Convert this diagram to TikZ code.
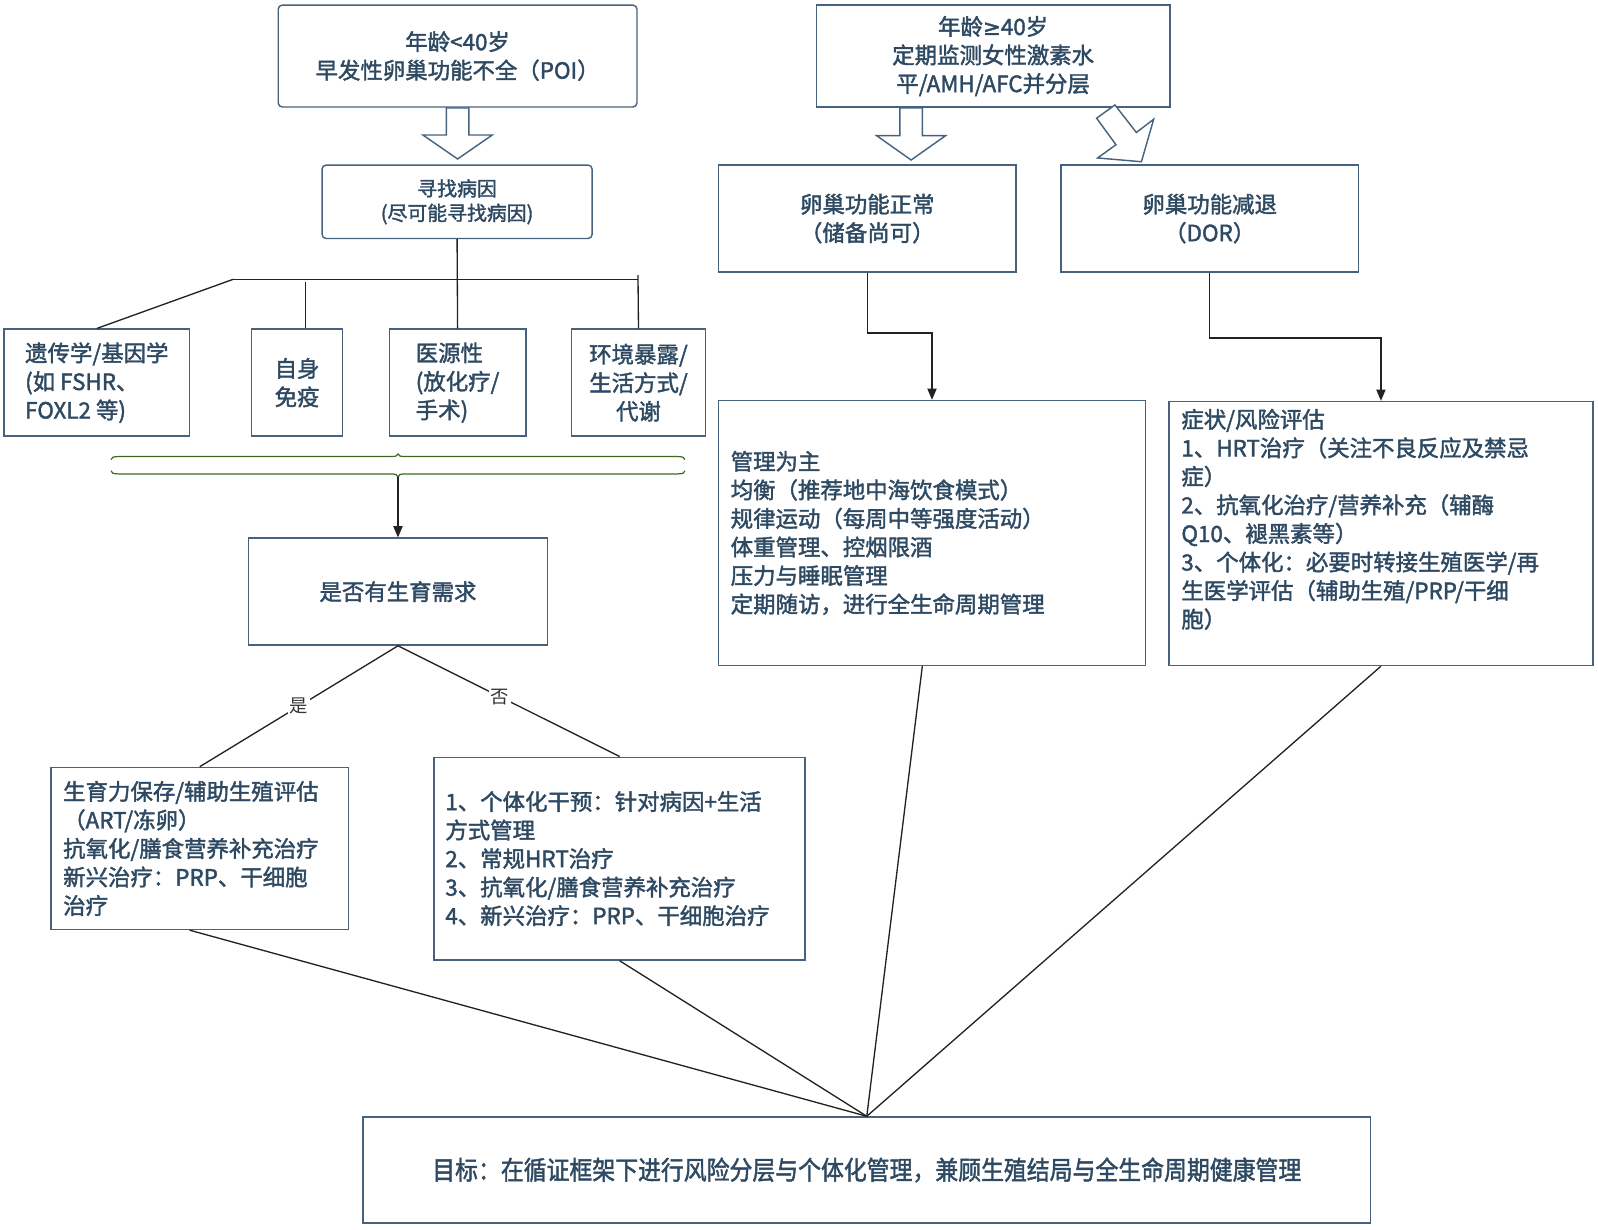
\documentclass[tikz,border=0pt]{standalone}
\usepackage{fontspec}
\setmainfont{Noto Sans CJK SC}[FakeBold=1.8]
\newfontfamily\symf{DejaVu Sans}[FakeBold=1.8]
\newfontfamily\labf{Noto Sans CJK SC}
\usetikzlibrary{arrows.meta,calc}
\definecolor{txt}{HTML}{2E4A62}
\definecolor{bd}{HTML}{46627E}
\definecolor{ln}{HTML}{222222}
\definecolor{brc}{HTML}{3A6A22}
\begin{document}
\begin{tikzpicture}[x=1pt,y=-1pt,
  box/.style={draw=bd, line width=1.4pt, text=txt, inner sep=0pt, font=\fontsize{22}{28}\selectfont, align=center},
  rbox/.style={box, rounded corners=4pt},
  lbox/.style={box, align=left, inner xsep=12pt},
  conn/.style={draw=ln, line width=1.3pt},
  arr/.style={conn, -{Triangle[length=11pt,width=9pt]}},
  hollow/.style={draw=bd, line width=1.4pt, fill=white, line join=miter},
  lab/.style={fill=white, text=black!80, font=\labf\fontsize{18}{20}\selectfont, inner sep=1.5pt},
  brace/.style={draw=brc, line width=1.2pt}
]
\useasboundingbox (0,0) rectangle (1568,1206);

% left column
\node[rbox, minimum width=352pt, minimum height=100pt] (poi) at (449,55) {年龄<40岁\\早发性卵巢功能不全（POI）};
\node[rbox, minimum width=265pt, minimum height=72pt, font=\fontsize{19.5}{24}\selectfont] (cause) at (448.5,198) {寻找病因\\(尽可能寻找病因)};

\node[box, align=left, minimum width=182pt, minimum height=105pt] (gene) at (95,375.5) {遗传学/基因学\\(如 FSHR、\\FOXL2 等)};
\node[box, minimum width=89pt, minimum height=105pt] (auto) at (291.5,375.5) {自身\\免疫};
\node[box, align=left, minimum width=134pt, minimum height=105pt] (iatro) at (449,375.5) {医源性\\(放化疗/\\手术)};
\node[box, minimum width=131pt, minimum height=105pt] (env) at (626.5,375.5) {环境暴露/\\生活方式/\\代谢};

\node[box, minimum width=293pt, minimum height=105pt] (yesno) at (390.5,580.5) {是否有生育需求};

\node[lbox, text width=268pt, minimum height=159pt] (fert) at (196,832.5) {生育力保存/辅助生殖评估\\（ART/冻卵）\\抗氧化/膳食营养补充治疗\\新兴治疗：PRP、干细胞\\治疗};
\node[lbox, inner xsep=11pt, text width=342pt, minimum height=199pt] (noint) at (608,842.5) {1、个体化干预：针对病因+生活\\方式管理\\2、常规HRT治疗\\3、抗氧化/膳食营养补充治疗\\4、新兴治疗：PRP、干细胞治疗};

% right column
\node[box, minimum width=347pt, minimum height=100pt] (old) at (974.5,55) {年龄{\symf\fontsize{21}{28}\selectfont ≥}40岁\\定期监测女性激素水\\平/AMH/AFC并分层};
\node[box, minimum width=292pt, minimum height=105pt] (normal) at (851,214.5) {卵巢功能正常\\（储备尚可）};
\node[box, minimum width=292pt, minimum height=105pt] (dor) at (1187,214.5) {卵巢功能减退\\（DOR）};
\node[lbox, text width=395pt, minimum height=260pt] (mgmt) at (914.5,523) {管理为主\\均衡（推荐地中海饮食模式）\\规律运动（每周中等强度活动）\\体重管理、控烟限酒\\压力与睡眠管理\\定期随访，进行全生命周期管理};
\node[box, minimum width=416pt, minimum height=259pt] (symp) at (1355,523.5) {};
\node[anchor=north west, inner sep=0pt, align=left, text=txt, font=\fontsize{22}{28}\selectfont] (symptxt) at (1159,401) {症状/风险评估\\1、HRT治疗（关注不良反应及禁忌\\症）\\2、抗氧化治疗/营养补充（辅酶\\Q10、褪黑素等）\\3、个体化：必要时转接生殖医学/再\\生医学评估（辅助生殖/PRP/干细\\胞）};

% goal
\node[box, minimum width=989pt, minimum height=104pt] (goal) at (850.5,1148) {\raisebox{-2pt}{\scalebox{0.88}[1]{\fontsize{25.5}{28}\selectfont 目标：在循证框架下进行风险分层与个体化管理，兼顾生殖结局与全生命周期健康管理}}};

% hollow arrows
\draw[hollow] (438,106) -- (460,106) -- (460,132.5) -- (483,132.5) -- (449,156) -- (415,132.5) -- (438,132.5) -- cycle;
\draw[hollow] (883,106) -- (905,106) -- (905,133) -- (928,133) -- (894,157) -- (860,133) -- (883,133) -- cycle;
\draw[hollow] (1094,103) -- (1115,130) -- (1132,117) -- (1120,158.7) -- (1077,155) -- (1095,142) -- (1076,116) -- cycle;

% cause tree
\coordinate (tl) at (229,274);
\coordinate (tr) at (626,274);
\coordinate (a1) at (300,277);
\coordinate (e1) at (626,270);
\draw[conn] (cause.south) -- (iatro.north);
\draw[conn] (tl) -- (tr);
\draw[conn] (tl) -- (gene.north);
\draw[conn] (a1) -- (a1 |- auto.north);
\draw[conn] (e1) -- (env.north);

% brace
\draw[brace] (109,451) .. controls (109,449) and (111,448) .. (116,448) -- (385,448) .. controls (388,448) and (389.5,447.5) .. (390.5,445.5) .. controls (391.5,447.5) and (393,448) .. (396,448) -- (665,448) .. controls (670,448) and (672,449) .. (672,451);
\draw[brace] (109,462) .. controls (109,464) and (111,465) .. (116,465) -- (385,465) .. controls (388,465) and (389.5,465.5) .. (390.5,468) .. controls (391.5,465.5) and (393,465) .. (396,465) -- (665,465) .. controls (670,465) and (672,464) .. (672,462);
\coordinate (bb) at (390.5,468);
\draw[arr] (bb) -- (yesno.north);

% yes / no
\draw[conn] (yesno.south) -- node[lab, pos=0.5] {是} (fert.north);
\draw[conn] (yesno.south) -- node[lab, pos=0.46] {否} (noint.north);

% elbows
\draw[arr] (normal.south) -- ++(0,59) -| (mgmt.north);
\draw[arr] (dor.south) -- ++(0,64) -| (symp.north);

% converge
\draw[conn] ($(fert.south)+(-10,0)$) -- (goal.north);
\draw[conn] (noint.south) -- (goal.north);
\draw[conn] ($(mgmt.south)+(-9.5,0)$) -- (goal.north);
\draw[conn] (symp.south) -- (goal.north);
\end{tikzpicture}
\end{document}
